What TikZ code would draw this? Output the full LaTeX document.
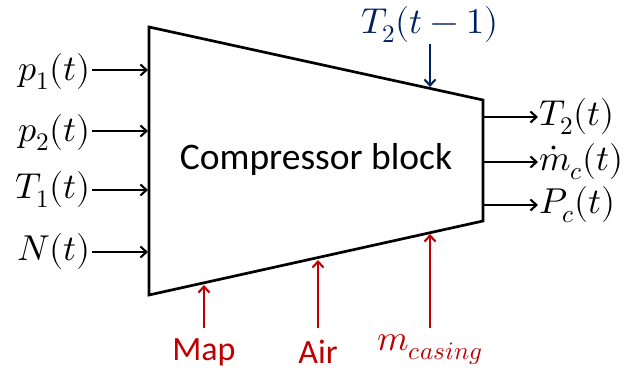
\documentclass[tikz,border=0pt]{standalone}
\usepackage{amsmath,amssymb}
\usepackage{fontspec}
\usepackage{unicode-math}
\setmainfont{Carlito}
\setmathfont{Latin Modern Math}
\usetikzlibrary{arrows.meta,positioning,calc}
\definecolor{tempblue}{HTML}{002060}
\definecolor{parred}{HTML}{C00000}

\begin{document}
\begin{tikzpicture}[x=1pt, y=-1pt, >={Straight Barb[length=6pt,width=11pt]},
  sig/.style={->, line width=2.1pt},
  lbl/.style={inner sep=1pt, font=\fontsize{34}{40}\selectfont},
  mlbl/.style={inner sep=1pt, font=\fontsize{36}{42}\selectfont}]

\useasboundingbox (0,0) rectangle (633,374);

% Block
\coordinate (TL) at (149,27);
\coordinate (BL) at (149,295);
\coordinate (TR) at (483,100);
\coordinate (BR) at (483,221);
\draw[line width=2.7pt, line join=miter] (TL) -- (TR) -- (BR) -- (BL) -- cycle;
\node[lbl, font=\fontsize{37.5}{42}\selectfont] (blk) at (316,160) {Compressor block};

% Inputs
\coordinate (in1) at (148,70);
\coordinate (in2) at (148,131);
\coordinate (in3) at (148,190);
\coordinate (in4) at (148,252);
\node[mlbl, anchor=east] (p1) at (92,72) {$p_1(t)$};
\node[mlbl, anchor=east] (p2) at (92,133) {$p_2(t)$};
\node[mlbl, anchor=east] (T1) at (92,190) {$T_1(t)$};
\node[mlbl, anchor=east] (N) at (92,252) {$N(t)$};
\draw[sig] (p1.east |- in1) -- (in1);
\draw[sig] (p2.east |- in2) -- (in2);
\draw[sig] (T1.east) -- (in3);
\draw[sig] (N.east) -- (in4);

% Feedback
\coordinate (fb) at (430,87);
\node[mlbl, tempblue] (T2prev) at (430,25) {$T_2(t-1)$};
\draw[sig, tempblue] (T2prev.south) -- (fb);

% Outputs
\node[mlbl, anchor=west] (T2) at (538,117) {$T_2(t)$};
\node[mlbl, anchor=west] (mc) at (538,162) {$\dot{m}_c(t)$};
\node[mlbl, anchor=west] (Pc) at (538,205) {$P_c(t)$};
\draw[sig] (483,117) -- (T2.west);
\draw[sig] (483,162) -- (mc.west);
\draw[sig] (483,205) -- (Pc.west);

% Parameters
\coordinate (map) at (204,285);
\coordinate (air) at (318,260);
\coordinate (cas) at (430,234);
\node[lbl, parred] (Map) at (204,352) {Map};
\node[lbl, parred] (Air) at (318,352) {Air};
\node[mlbl, parred] (mcas) at (430,350) {$m_{casing}$};
\draw[sig, parred] (204,328) -- (map);
\draw[sig, parred] (318,328) -- (air);
\draw[sig, parred] (430,328) -- (cas);

\end{tikzpicture}
\end{document}
